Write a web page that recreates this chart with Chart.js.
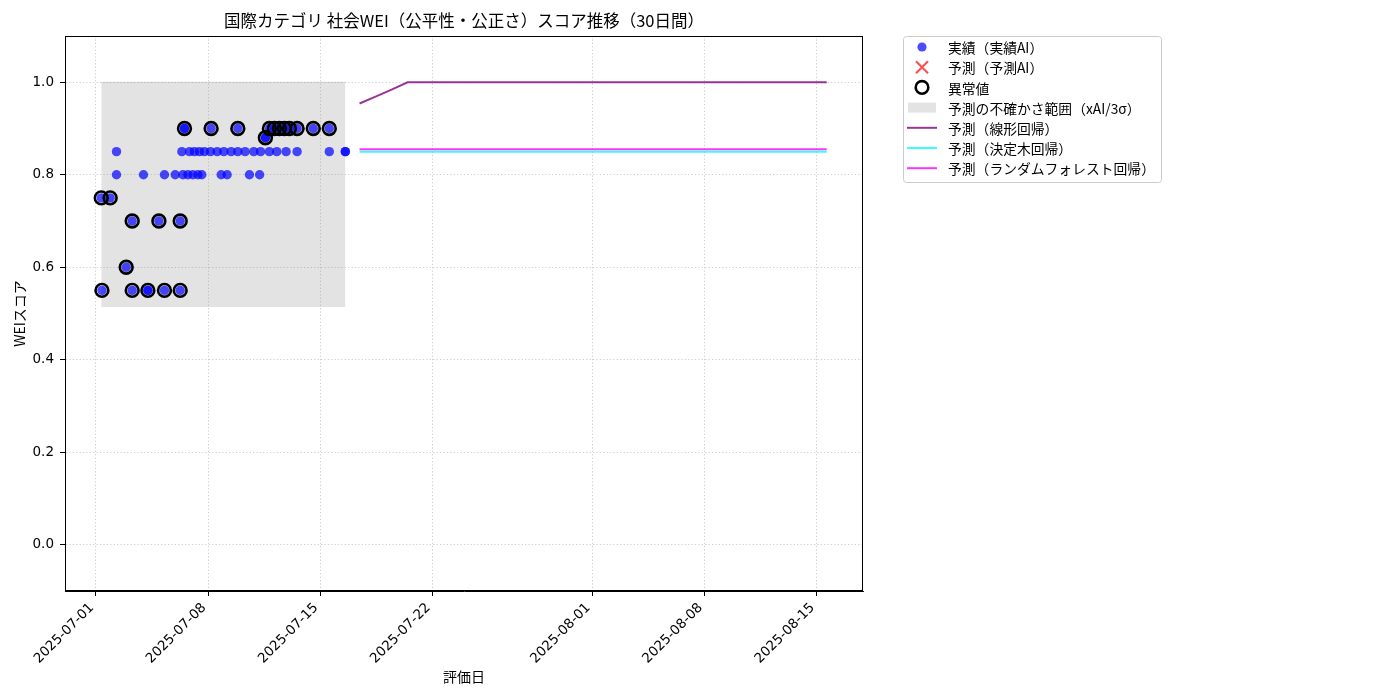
<!DOCTYPE html>
<html>
<head>
<meta charset="utf-8">
<script src="https://cdn.jsdelivr.net/npm/chart.js@4.4.1/dist/chart.umd.min.js"></script>
<style>
  html, body { margin: 0; padding: 0; background: #fff; }
  #wrap { width: 1400px; height: 700px; }
</style>
</head>
<body>
<div id="wrap"><canvas id="weiChart" width="1400" height="700"></canvas></div>
<script>
// 実績 (actual scores)
const actualDates = [
  '2025-07-01T08:00', '2025-07-01T09:00', '2025-07-01T21:20', '2025-07-02T21:20',
  '2025-07-03T06:20', '2025-07-03T06:20', '2025-07-04T05:50', '2025-07-04T05:50',
  '2025-07-04T22:20', '2025-07-05T06:40', '2025-07-06T06:15', '2025-07-06T06:15',
  '2025-07-06T12:40', '2025-07-06T12:40', '2025-07-08T04:35', '2025-07-09T20:35',
  '2025-07-11T13:55', '2025-07-11T13:55', '2025-07-11T19:55', '2025-07-12T03:25',
  '2025-07-12T10:50', '2025-07-12T18:25', '2025-07-13T01:55', '2025-07-13T13:25',
  '2025-07-14T13:40', '2025-07-15T13:40',
  '2025-07-02T06:50', '2025-07-03T23:15', '2025-07-05T06:40', '2025-07-05T22:45',
  '2025-07-06T10:20', '2025-07-06T17:45', '2025-07-07T01:10', '2025-07-07T08:40',
  '2025-07-07T14:40', '2025-07-08T19:40', '2025-07-09T04:35', '2025-07-10T14:00',
  '2025-07-11T05:15',
  '2025-07-02T06:50', '2025-07-06T08:45', '2025-07-06T20:10', '2025-07-07T03:35',
  '2025-07-07T11:05', '2025-07-07T18:30', '2025-07-08T03:35', '2025-07-08T13:40',
  '2025-07-08T23:40', '2025-07-09T10:35', '2025-07-09T20:35', '2025-07-10T07:30',
  '2025-07-10T20:35', '2025-07-11T06:40', '2025-07-11T19:55', '2025-07-12T07:00',
  '2025-07-12T20:55', '2025-07-13T13:25', '2025-07-15T13:40', '2025-07-16T13:40',
  '2025-07-16T13:40'
];
const actualScores = [
  0.75, 0.55, 0.75, 0.60,
  0.55, 0.70, 0.55, 0.55,
  0.70, 0.55, 0.55, 0.70,
  0.90, 0.90, 0.90, 0.90,
  0.88, 0.88, 0.90, 0.90,
  0.90, 0.90, 0.90, 0.90,
  0.90, 0.90,
  0.80, 0.80, 0.80, 0.80,
  0.80, 0.80, 0.80, 0.80,
  0.80, 0.80, 0.80, 0.80,
  0.80,
  0.85, 0.85, 0.85, 0.85,
  0.85, 0.85, 0.85, 0.85,
  0.85, 0.85, 0.85, 0.85,
  0.85, 0.85, 0.85, 0.85,
  0.85, 0.85, 0.85, 0.85,
  0.85
];

// 異常値 (anomalies)
const anomalyDates = [
  '2025-07-01T08:00', '2025-07-01T09:00', '2025-07-01T21:20', '2025-07-02T21:20',
  '2025-07-03T06:20', '2025-07-03T06:20', '2025-07-04T05:50', '2025-07-04T22:20',
  '2025-07-05T06:40', '2025-07-06T06:15', '2025-07-06T06:15', '2025-07-06T12:40',
  '2025-07-08T04:35', '2025-07-09T20:35', '2025-07-11T13:55', '2025-07-11T19:55',
  '2025-07-12T03:25', '2025-07-12T10:50', '2025-07-12T18:25', '2025-07-13T01:55',
  '2025-07-13T13:25', '2025-07-14T13:40', '2025-07-15T13:40'
];
const anomalyScores = [
  0.75, 0.55, 0.75, 0.60,
  0.55, 0.70, 0.55, 0.70,
  0.55, 0.55, 0.70, 0.90,
  0.90, 0.90, 0.88, 0.90,
  0.90, 0.90, 0.90, 0.90,
  0.90, 0.90, 0.90
];

// 予測（予測AI） - no points in this chart
const aiForecastDates = [];
const aiForecastScores = [];

// 予測 30日間
const forecastDates = [
  '2025-07-17T11:00', '2025-07-18T11:00', '2025-07-19T11:00', '2025-07-20T11:00',
  '2025-07-21T11:00', '2025-07-22T11:00', '2025-07-23T11:00', '2025-07-24T11:00',
  '2025-07-25T11:00', '2025-07-26T11:00', '2025-07-27T11:00', '2025-07-28T11:00',
  '2025-07-29T11:00', '2025-07-30T11:00', '2025-07-31T11:00', '2025-08-01T11:00',
  '2025-08-02T11:00', '2025-08-03T11:00', '2025-08-04T11:00', '2025-08-05T11:00',
  '2025-08-06T11:00', '2025-08-07T11:00', '2025-08-08T11:00', '2025-08-09T11:00',
  '2025-08-10T11:00', '2025-08-11T11:00', '2025-08-12T11:00', '2025-08-13T11:00',
  '2025-08-14T11:00', '2025-08-15T15:00'
];
const linearForecast = [
  0.954, 0.969, 0.984, 1.0, 1.0, 1.0, 1.0, 1.0, 1.0, 1.0,
  1.0, 1.0, 1.0, 1.0, 1.0, 1.0, 1.0, 1.0, 1.0, 1.0,
  1.0, 1.0, 1.0, 1.0, 1.0, 1.0, 1.0, 1.0, 1.0, 1.0
];
const treeForecast = [
  0.85, 0.85, 0.85, 0.85, 0.85, 0.85, 0.85, 0.85, 0.85, 0.85,
  0.85, 0.85, 0.85, 0.85, 0.85, 0.85, 0.85, 0.85, 0.85, 0.85,
  0.85, 0.85, 0.85, 0.85, 0.85, 0.85, 0.85, 0.85, 0.85, 0.85
];
const forestForecast = [
  0.855, 0.855, 0.855, 0.855, 0.855, 0.855, 0.855, 0.855, 0.855, 0.855,
  0.855, 0.855, 0.855, 0.855, 0.855, 0.855, 0.855, 0.855, 0.855, 0.855,
  0.855, 0.855, 0.855, 0.855, 0.855, 0.855, 0.855, 0.855, 0.855, 0.855
];

// 不確かさ範囲 (xAI/3σ)
const bandUpper = 1.0;
const bandLower = 0.514;

const xTickDates = ['2025-07-01', '2025-07-08', '2025-07-15', '2025-07-22', '2025-08-01', '2025-08-08', '2025-08-15'];
const yTickValues = [0.0, 0.2, 0.4, 0.6, 0.8, 1.0];

const TICK_FONT = "'DejaVu Sans', 'Noto Sans CJK JP', sans-serif";
const JP_FONT = "'Noto Sans CJK JP', 'Noto Sans', sans-serif";
const toMs = s => Date.parse(s.length === 10 ? s + 'T00:00:00Z' : s + ':00Z');
const toPoints = (dates, vals) => dates.map((d, i) => ({ x: toMs(d), y: vals[i] }));

const actualPoints = toPoints(actualDates, actualScores);
const anomalyPoints = toPoints(anomalyDates, anomalyScores);
const firstActual = Math.min(...actualPoints.map(p => p.x));
const lastActual = Math.max(...actualPoints.map(p => p.x));
const bandPoints = [{ x: firstActual, y: bandUpper }, { x: lastActual, y: bandUpper }];

// matplotlib-like 5% margin
const allX = actualPoints.map(p => p.x).concat(forecastDates.map(toMs));
const xLo = Math.min(...allX), xHi = Math.max(...allX);
const xMargin = (xHi - xLo) * 0.05;

const legendItems = [
  { label: '実績（実績AI）', kind: 'dot', color: 'rgba(0,0,255,0.7)' },
  { label: '予測（予測AI）', kind: 'cross', color: 'rgba(255,0,0,0.7)' },
  { label: '異常値', kind: 'ring', color: '#000' },
  { label: '予測の不確かさ範囲（xAI/3σ）', kind: 'box', color: 'rgba(128,128,128,0.22)' },
  { label: '予測（線形回帰）', kind: 'line', color: 'rgba(128,0,128,0.8)' },
  { label: '予測（決定木回帰）', kind: 'line', color: 'rgba(0,255,255,0.8)' },
  { label: '予測（ランダムフォレスト回帰）', kind: 'line', color: 'rgba(255,0,255,0.8)' }
];

const decorations = {
  id: 'decorations',
  afterDatasetsDraw(chart) {
    const { ctx, chartArea: a } = chart;
    ctx.save();
    ctx.strokeStyle = '#000';
    ctx.lineWidth = 1;
    ctx.strokeRect(a.left + 0.5, a.top + 0.5, a.right - a.left - 1, a.bottom - a.top - 1);
    ctx.restore();
  },
  afterDraw(chart) {
    const { ctx, chartArea: a } = chart;
    ctx.save();
    // title
    ctx.fillStyle = '#000';
    ctx.font = '16.5px ' + JP_FONT;
    ctx.textAlign = 'center';
    ctx.textBaseline = 'middle';
    ctx.fillText('国際カテゴリ 社会WEI（公平性・公正さ）スコア推移（30日間）', (a.left + a.right) / 2, 21);

    // legend box
    const bx = 903, by = 36, bw = 258, bh = 146;
    ctx.fillStyle = 'rgba(255,255,255,0.8)';
    ctx.strokeStyle = '#cccccc';
    ctx.lineWidth = 1;
    ctx.beginPath();
    ctx.roundRect(bx + 0.5, by + 0.5, bw, bh, 3);
    ctx.fill();
    ctx.stroke();

    ctx.font = '13.8px ' + JP_FONT;
    ctx.textAlign = 'left';
    legendItems.forEach((it, i) => {
      const y = by + 11 + i * 20.2;
      const mx = 922;
      ctx.save();
      if (it.kind === 'dot') {
        ctx.fillStyle = it.color;
        ctx.beginPath(); ctx.arc(mx, y, 4.6, 0, Math.PI * 2); ctx.fill();
      } else if (it.kind === 'cross') {
        ctx.strokeStyle = it.color; ctx.lineWidth = 2;
        ctx.beginPath();
        ctx.moveTo(mx - 6, y - 6); ctx.lineTo(mx + 6, y + 6);
        ctx.moveTo(mx + 6, y - 6); ctx.lineTo(mx - 6, y + 6);
        ctx.stroke();
      } else if (it.kind === 'ring') {
        ctx.strokeStyle = it.color; ctx.lineWidth = 2.6;
        ctx.beginPath(); ctx.arc(mx, y, 6.3, 0, Math.PI * 2); ctx.stroke();
      } else if (it.kind === 'box') {
        ctx.fillStyle = it.color;
        ctx.fillRect(908, y - 5, 28, 10);
      } else {
        ctx.strokeStyle = it.color; ctx.lineWidth = 2;
        ctx.beginPath(); ctx.moveTo(907, y); ctx.lineTo(937, y); ctx.stroke();
      }
      ctx.restore();
      ctx.fillStyle = '#000';
      ctx.fillText(it.label, 948, y + 1);
    });
    ctx.restore();
  }
};

const gridStyle = {
  color: 'rgba(176,176,176,0.8)',
  lineWidth: 0.8,
  tickColor: '#000',
  tickLength: 5,
  tickBorderDash: [],
  tickWidth: 1
};
const borderStyle = { display: true, color: '#000', width: 1, dash: [1.2, 2.2] };

new Chart(document.getElementById('weiChart'), {
  type: 'scatter',
  data: {
    datasets: [
      {
        label: '異常値',
        data: anomalyPoints,
        backgroundColor: 'rgba(0,0,0,0)',
        borderColor: '#000',
        borderWidth: 2.6,
        pointRadius: 6.4,
        order: 0
      },
      {
        label: '実績（実績AI）',
        data: actualPoints,
        backgroundColor: 'rgba(0,0,255,0.7)',
        borderWidth: 0,
        pointRadius: 4.7,
        order: 1
      },
      {
        label: '予測（予測AI）',
        data: toPoints(aiForecastDates, aiForecastScores),
        pointStyle: 'crossRot',
        borderColor: 'rgba(255,0,0,0.7)',
        pointRadius: 6,
        order: 2
      },
      {
        label: '予測（ランダムフォレスト回帰）',
        type: 'line',
        data: toPoints(forecastDates, forestForecast),
        borderColor: 'rgba(255,0,255,0.8)',
        borderWidth: 2,
        pointRadius: 0,
        order: 3
      },
      {
        label: '予測（決定木回帰）',
        type: 'line',
        data: toPoints(forecastDates, treeForecast),
        borderColor: 'rgba(0,255,255,0.8)',
        borderWidth: 2,
        pointRadius: 0,
        order: 4
      },
      {
        label: '予測（線形回帰）',
        type: 'line',
        data: toPoints(forecastDates, linearForecast),
        borderColor: 'rgba(128,0,128,0.8)',
        borderWidth: 2,
        pointRadius: 0,
        order: 5
      },
      {
        label: '予測の不確かさ範囲（xAI/3σ）',
        type: 'line',
        data: bandPoints,
        fill: { value: bandLower },
        backgroundColor: 'rgba(128,128,128,0.22)',
        borderColor: 'rgba(128,128,128,0.22)',
        borderWidth: 1,
        pointRadius: 0,
        order: 6
      }
    ]
  },
  options: {
    responsive: false,
    animation: false,
    layout: { padding: { left: 0, right: 537, top: 36, bottom: 0 } },
    plugins: {
      legend: { display: false },
      tooltip: { enabled: false },
      title: { display: false }
    },
    scales: {
      x: {
        type: 'linear',
        min: xLo - xMargin,
        max: xHi + xMargin,
        afterBuildTicks: s => { s.ticks = xTickDates.map(d => ({ value: toMs(d) })); },
        afterFit: s => { s.height = 109; },
        ticks: {
          autoSkip: false,
          minRotation: 45,
          maxRotation: 45,
          padding: 4,
          labelOffset: -4,
          color: '#000',
          font: { family: TICK_FONT, size: 13.5 },
          callback: v => new Date(v).toISOString().slice(0, 10)
        },
        grid: gridStyle,
        border: borderStyle,
        title: {
          display: true,
          text: '評価日',
          color: '#000',
          font: { family: JP_FONT, size: 14 },
          padding: { top: 0, bottom: 15 }
        }
      },
      y: {
        min: -0.1,
        max: 1.1,
        afterBuildTicks: s => { s.ticks = yTickValues.map(v => ({ value: v })); },
        afterFit: s => { s.width = 65; },
        ticks: {
          padding: 6,
          color: '#000',
          font: { family: TICK_FONT, size: 13.5 },
          callback: v => v.toFixed(1)
        },
        grid: gridStyle,
        border: borderStyle,
        title: {
          display: true,
          text: 'WEIスコア',
          color: '#000',
          font: { family: JP_FONT, size: 14 },
          padding: { top: 11, bottom: 4 }
        }
      }
    }
  },
  plugins: [decorations]
});
</script>
</body>
</html>
